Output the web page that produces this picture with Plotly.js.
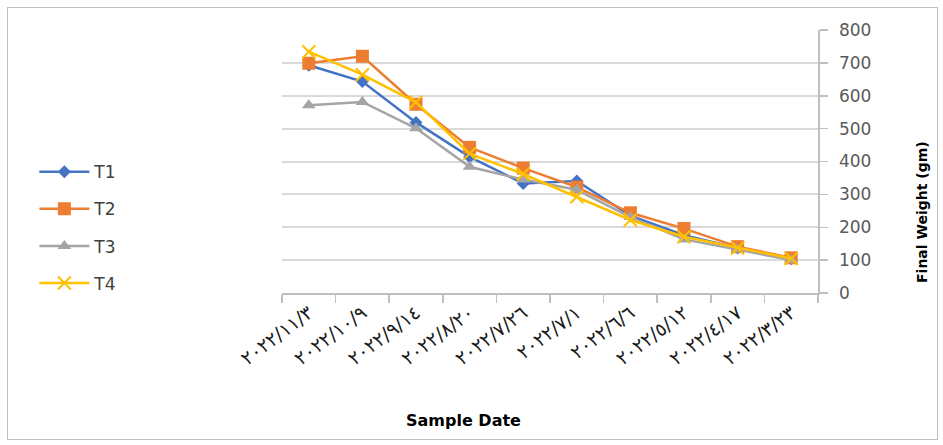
<!DOCTYPE html>
<html>
<head>
<meta charset="utf-8">
<script src="https://cdn.plot.ly/plotly-3.0.1.min.js"></script>
<style>
  html, body { margin: 0; padding: 0; background: #fff; }
  #wrap { position: relative; width: 943px; height: 445px; }
  #chart { position: absolute; left: 0; top: 0; width: 943px; height: 445px; }
  #frame { position: absolute; left: 7px; top: 7px; width: 929px; height: 431px;
           border: 1px solid #bfbfbf; pointer-events: none; }
</style>
</head>
<body>
<div id="wrap">
  <div id="chart"></div>
  <div id="frame"></div>
</div>
<script>
// Categories (sample dates, as printed)
const sampleDates = [
  "٢٠٢٢/١١/٣", "٢٠٢٢/١٠/٩", "٢٠٢٢/٩/١٤", "٢٠٢٢/٨/٢٠", "٢٠٢٢/٧/٢٦",
  "٢٠٢٢/٧/١", "٢٠٢٢/٦/٦", "٢٠٢٢/٥/١٢", "٢٠٢٢/٤/١٧", "٢٠٢٢/٣/٢٣"
];
// Final weight (gm) per treatment
const T1 = [693, 643, 519, 414, 333, 341, 235, 176, 137, 104];
const T2 = [699, 720, 574, 443, 380, 322, 244, 196, 141, 107];
const T3 = [571, 581, 501, 384, 345, 314, 231, 163, 132, 100];
const T4 = [734, 664, 580, 424, 362, 293, 222, 171, 137, 105];
const seriesNames = ["T1", "T2", "T3", "T4"];
const yTicks = [0, 100, 200, 300, 400, 500, 600, 700, 800];

const FONT = "DejaVu Sans, Verdana, sans-serif";

const styles = [
  { color: "#4472C4", symbol: "diamond", size: 10, mline: 0 },
  { color: "#ED7D31", symbol: "square", size: 13, mline: 0 },
  { color: "#A5A5A5", symbol: "triangle-up", size: 12, mline: 0 },
  { color: "#FFC000", symbol: "x-thin-open", size: 13, mline: 2 }
];
const allSeries = [T1, T2, T3, T4];

const traces = allSeries.map((vals, i) => ({
  type: "scatter",
  mode: "lines+markers",
  name: seriesNames[i],
  legendgroup: seriesNames[i],
  x: sampleDates,
  y: vals,
  line: { color: styles[i].color, width: 2.5 },
  marker: {
    color: styles[i].color,
    symbol: styles[i].symbol,
    size: styles[i].size,
    line: { color: styles[i].color, width: styles[i].mline }
  }
}));

const layout = {
  width: 943,
  height: 445,
  margin: { l: 282, r: 125, t: 30, b: 152 },
  paper_bgcolor: "#ffffff",
  plot_bgcolor: "#ffffff",
  font: { family: FONT, color: "#404040" },
  showlegend: true,
  legend: {
    x: -0.462, xanchor: "left",
    y: 0.528, yanchor: "top",
    font: { family: FONT, size: 17, color: "#404040" },
    itemwidth: 50,
    tracegroupgap: 12,
    bgcolor: "rgba(0,0,0,0)"
  },
  xaxis: {
    type: "category",
    range: [-0.5, 9.5],
    tickson: "boundaries",
    ticks: "outside",
    ticklen: 8,
    tickcolor: "#bfbfbf",
    tickwidth: 1.5,
    showline: true,
    linecolor: "#bfbfbf",
    linewidth: 1.5,
    showgrid: false,
    zeroline: false,
    tickangle: -37,
    tickfont: { family: FONT, size: 19, color: "#1a1a1a" },
    fixedrange: true
  },
  yaxis: {
    side: "right",
    range: [0, 800],
    tickmode: "array",
    tickvals: yTicks,
    ticktext: yTicks.map(String),
    ticks: "outside",
    ticklen: 8,
    tickcolor: "#bfbfbf",
    tickwidth: 1.5,
    ticklabelstandoff: 8,
    showline: true,
    linecolor: "#bfbfbf",
    linewidth: 1.5,
    showgrid: true,
    gridcolor: "#d9d9d9",
    gridwidth: 2,
    zeroline: false,
    tickfont: { family: FONT, size: 17, color: "#595959" },
    fixedrange: true
  },
  annotations: [
    {
      text: "<b>Sample Date</b>",
      xref: "paper", yref: "paper",
      x: 0.338, y: -0.483,
      xanchor: "center", yanchor: "middle",
      showarrow: false,
      font: { family: FONT, size: 16, color: "#000000" }
    },
    {
      text: "<b>Final Weight (gm)</b>",
      xref: "paper", yref: "paper",
      x: 1.194, y: 0.308,
      xanchor: "center", yanchor: "middle",
      textangle: -90,
      showarrow: false,
      font: { family: FONT, size: 14, color: "#000000" }
    }
  ]
};

Plotly.newPlot("chart", traces, layout, { displayModeBar: false, staticPlot: true });
</script>
</body>
</html>
